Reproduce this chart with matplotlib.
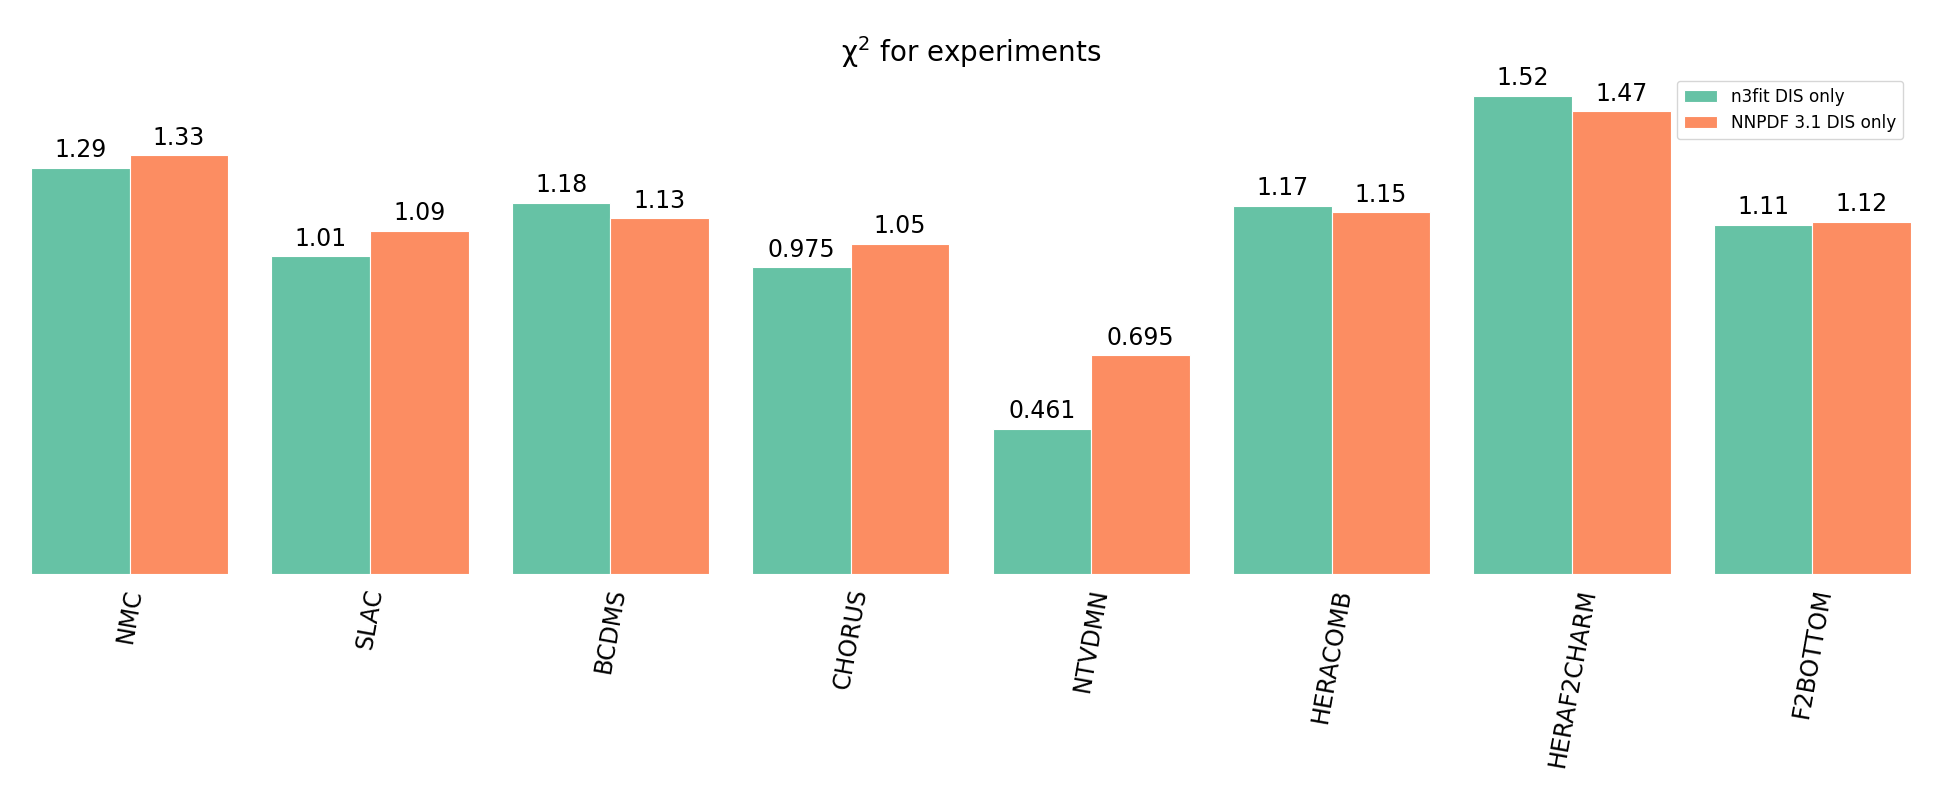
import numpy as np
import matplotlib
matplotlib.use("Agg")
import matplotlib.pyplot as plt

experiments = ["NMC", "SLAC", "BCDMS", "CHORUS", "NTVDMN", "HERACOMB", "HERAF2CHARM", "F2BOTTOM"]
n3fit = [1.29, 1.01, 1.18, 0.975, 0.461, 1.17, 1.52, 1.11]
nnpdf31 = [1.33, 1.09, 1.13, 1.05, 0.695, 1.15, 1.47, 1.12]
series_labels = ["n3fit DIS only", "NNPDF 3.1 DIS only"]
colors = ["#66c2a5", "#fc8d62"]

fig = plt.figure(figsize=(19.43, 8), dpi=100)
ax = fig.add_axes([31 / 1943, 1 - 574 / 800, 1880 / 1943, 0.62])

x = np.arange(len(experiments))
width = 0.41
for i, (vals, lab, col) in enumerate(zip([n3fit, nnpdf31], series_labels, colors)):
    pos = x + (i - 0.5) * width
    bars = ax.bar(pos, vals, width, label=lab, color=col, edgecolor="white", linewidth=0.8)
    for b, v in zip(bars, vals):
        ax.annotate("%.3g" % v, (b.get_x() + b.get_width() / 2, v),
                    xytext=(0, 4), textcoords="offset points",
                    ha="center", va="bottom", fontsize=17)

ax.set_xlim(-width, len(experiments) - 1 + width)
ax.set_ylim(0, 1.576)
ax.set_xticks(x)
ax.set_xticklabels(experiments, rotation=80, fontsize=17)
ax.tick_params(axis="x", length=0, pad=9)
ax.set_yticks([])
for s in ax.spines.values():
    s.set_visible(False)

fig.text(971 / 1943, 1 - 52 / 800, "χ$^2$ for experiments", ha="center", va="center", fontsize=20)
fig.legend(loc="upper right", bbox_to_anchor=(1903 / 1943, 1 - 81 / 800), fontsize=12.2,
           handlelength=2.0, borderaxespad=0)

fig.savefig("out.png", dpi=100)
